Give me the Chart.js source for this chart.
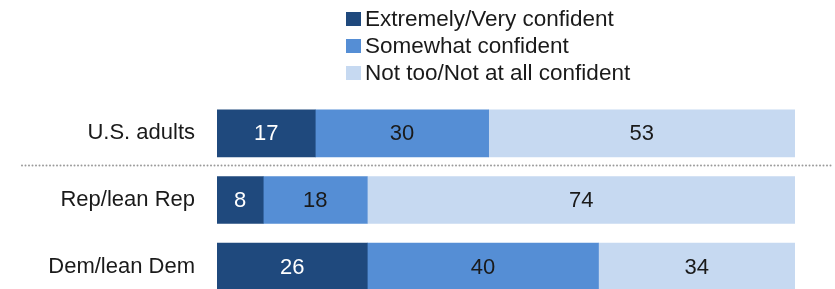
<!DOCTYPE html>
<html><head><meta charset="utf-8">
<script src="https://cdn.jsdelivr.net/npm/chart.js@4/dist/chart.umd.min.js"></script>
<style>html,body{margin:0;padding:0;background:#fff;overflow:hidden}#wrap{width:835px;height:300px}</style>
</head><body><div id="wrap"><canvas id="c" width="835" height="300"></canvas></div>
<script>
const categories = ["U.S. adults", "Rep/lean Rep", "Dem/lean Dem"];
const seriesNames = ["Extremely/Very confident", "Somewhat confident", "Not too/Not at all confident"];
const veryConfident = [17, 8, 26];
const somewhatConfident = [30, 18, 40];
const notConfident = [53, 74, 34];
const colors = ["#1f497d", "#558ed5", "#c6d9f1"];
const FONT = "'Liberation Sans', Arial, sans-serif";

const legendPlugin = {
  id: 'customLegend',
  afterDraw(chart) {
    const ctx = chart.ctx;
    ctx.save();
    ctx.font = "22.5px " + FONT;
    ctx.textBaseline = 'middle';
    ctx.textAlign = 'left';
    chart.data.datasets.forEach((ds, i) => {
      const cy = 19 + i * 27;
      ctx.fillStyle = ds.backgroundColor;
      ctx.fillRect(346, cy - 7, 15, 14);
      ctx.fillStyle = '#1a1a1a';
      ctx.fillText(ds.label, 365, cy + 1);
    });
    ctx.restore();
  }
};

const labelPlugin = {
  id: 'barLabels',
  afterDatasetsDraw(chart) {
    const ctx = chart.ctx;
    ctx.save();
    ctx.font = "22px " + FONT;
    ctx.textAlign = 'center';
    ctx.textBaseline = 'middle';
    chart.data.datasets.forEach((ds, i) => {
      const meta = chart.getDatasetMeta(i);
      meta.data.forEach((bar, j) => {
        const p = bar.getProps(['x', 'y', 'base'], true);
        ctx.fillStyle = i === 0 ? '#ffffff' : '#1a1a1a';
        ctx.fillText(String(ds.data[j]), (p.x + p.base) / 2, p.y + 1);
      });
    });
    ctx.restore();
  }
};

const dividerPlugin = {
  id: 'divider',
  afterDraw(chart) {
    const y = chart.scales.y;
    const yy = Math.round((y.getPixelForValue(0) + y.getPixelForValue(1)) / 2) - 1.5;
    const ctx = chart.ctx;
    ctx.save();
    ctx.fillStyle = '#9a9a9a';
    for (let x = 22; x <= 832; x += 3.5) {
      ctx.beginPath();
      ctx.arc(x, yy, 1, 0, Math.PI * 2);
      ctx.fill();
    }
    ctx.restore();
  }
};

new Chart(document.getElementById('c'), {
  type: 'bar',
  data: {
    labels: categories,
    datasets: [
      { label: seriesNames[0], data: veryConfident, backgroundColor: colors[0] },
      { label: seriesNames[1], data: somewhatConfident, backgroundColor: colors[1] },
      { label: seriesNames[2], data: notConfident, backgroundColor: colors[2] }
    ]
  },
  options: {
    indexAxis: 'y',
    responsive: false,
    animation: false,
    layout: { padding: { top: 100, right: 40, left: 0, bottom: 0 } },
    datasets: { bar: { barThickness: 47, borderWidth: 0 } },
    plugins: { legend: { display: false }, tooltip: { enabled: false } },
    scales: {
      x: { stacked: true, min: 0, max: 100, display: false },
      y: {
        stacked: true,
        grid: { display: false, tickLength: 22 },
        border: { display: false },
        afterFit(scale) { scale.width = 217; scale.paddingTop = 0; scale.paddingBottom = 0; },
        ticks: { padding: 0, color: '#1a1a1a', font: { family: FONT, size: 22 } }
      }
    }
  },
  plugins: [legendPlugin, labelPlugin, dividerPlugin]
});
</script></body></html>
